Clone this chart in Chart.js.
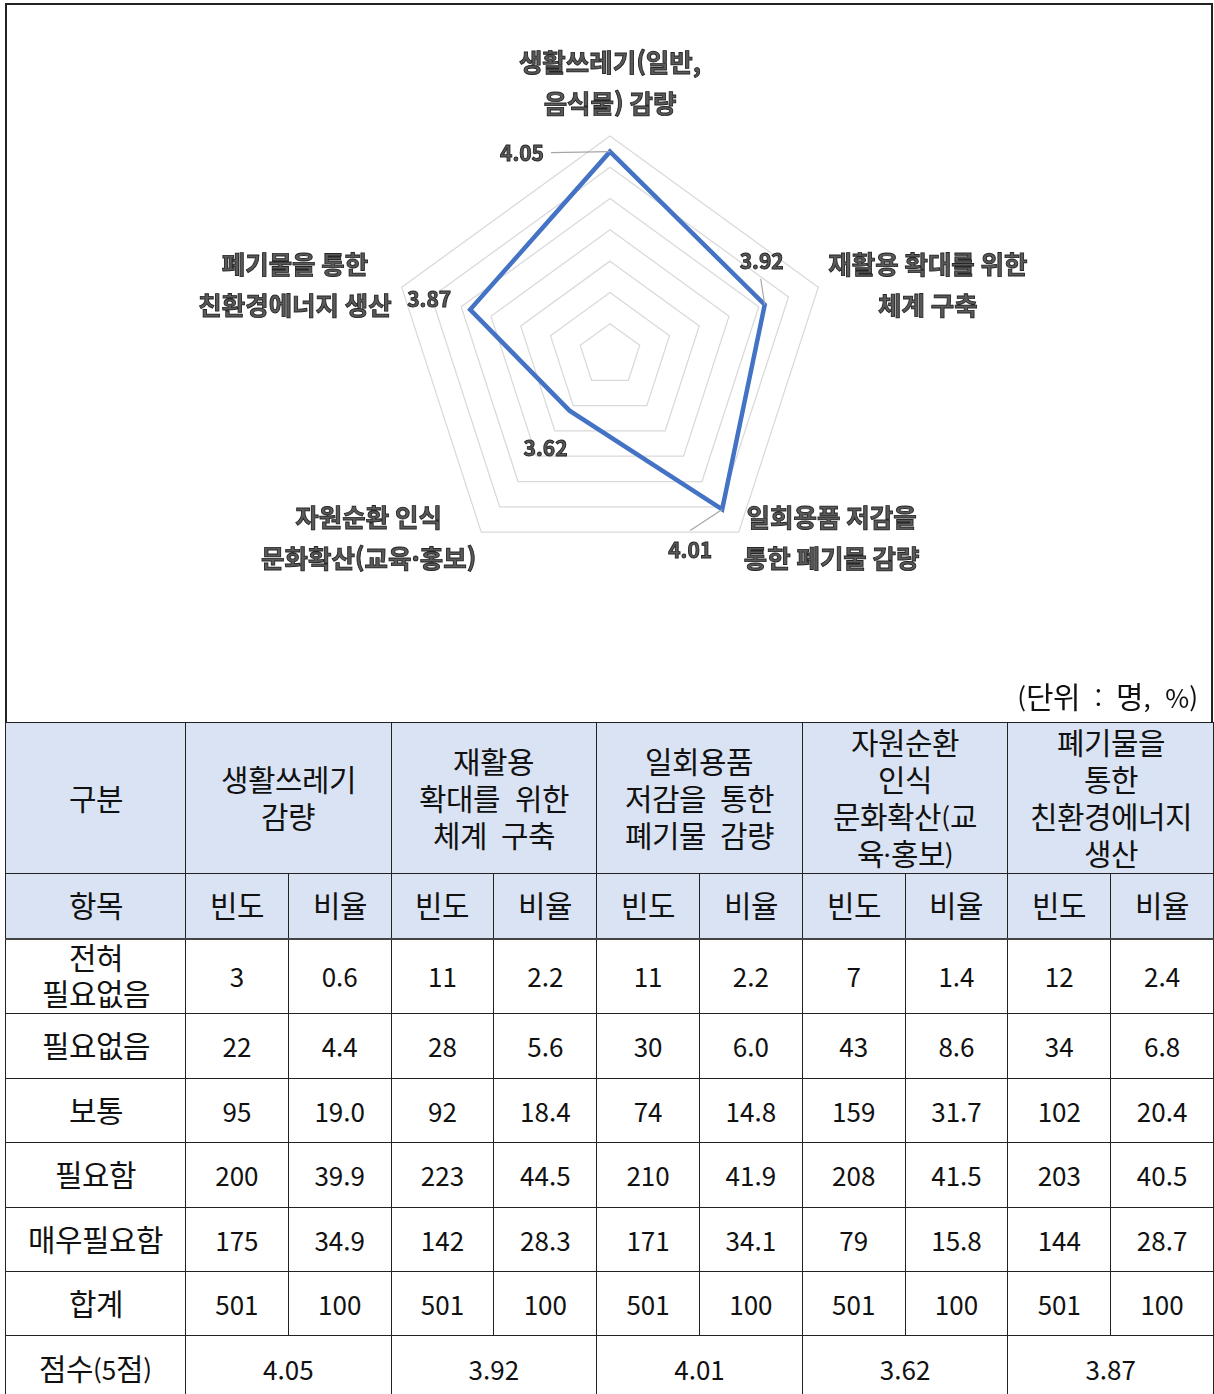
<!DOCTYPE html>
<html lang="ko">
<head>
  <meta charset="UTF-8">
  <title>자원순환 정책 필요도</title>
  <script src="https://cdn.jsdelivr.net/npm/chart.js"></script>
  <style>
    @font-face {
      font-family: "KRWide";
      src: local("Noto Sans CJK KR Regular"), local("NotoSansCJKkr-Regular"), local("Noto Sans CJK KR");
      size-adjust: 115%;
      unicode-range: U+1100-11FF, U+3130-318F, U+AC00-D7AF;
    }
    body { margin: 0; background: #fff; font-family: "KRWide", "Noto Sans CJK KR", "Noto Sans", sans-serif; }
    #wrap { position: absolute; left: 5px; top: 3px; width: 1208px; }
    #chartBox { position: relative; height: 719px; box-sizing: border-box; border: 2px solid #222; border-bottom: none; }
    #chartArea { position: absolute; left: 0; top: 0; width: 1204px; height: 677px; }
    #unit { position: absolute; right: 13px; top: 672px; font-size: 26px; line-height: 40px; color: #111; white-space: pre; }
    table { width: 1208px; border-collapse: collapse; table-layout: fixed; }
    td { border: 1px solid #222; text-align: center; vertical-align: middle; font-size: 26px; line-height: 36px; color: #111; padding: 0; overflow: hidden; }
    tr.head td { background: #dae3f3; }
    tr.head1 td { line-height: 37px; }
    tr.head2 td { border-bottom: 2px solid #444; }
  </style>
</head>
<body>
<div id="wrap">
  <div id="chartBox">
    <div id="chartArea"><canvas id="chart"></canvas></div>
    <div id="unit">(단위  :  명,  %)</div>
  </div>
  <table id="tbl"></table>
</div>

<script>
  // 레이더 차트 데이터
  const categories = [
    ['생활쓰레기(일반,', '음식물) 감량'],
    ['재활용 확대를 위한', '체계 구축'],
    ['일회용품 저감을', '통한 폐기물 감량'],
    ['자원순환 인식', '문화확산(교육·홍보)'],
    ['폐기물을 통한', '친환경에너지 생산']
  ];
  const scores = [4.05, 3.92, 4.01, 3.62, 3.87];
  const scaleMin = 3.4, scaleMax = 4.1, scaleStep = 0.1;

  // 표 데이터
  const tableHeads = ['생활쓰레기<br>감량', '재활용<br>확대를&nbsp; 위한<br>체계&nbsp; 구축', '일회용품<br>저감을&nbsp; 통한<br>폐기물&nbsp; 감량',
                      '자원순환<br>인식<br>문화확산(교<br>육·홍보)', '폐기물을<br>통한<br>친환경에너지<br>생산'];
  const responses = ['전혀<br>필요없음', '필요없음', '보통', '필요함', '매우필요함'];
  const freqByCategory = [
    [3, 22, 95, 200, 175],
    [11, 28, 92, 223, 142],
    [11, 30, 74, 210, 171],
    [7, 43, 159, 208, 79],
    [12, 34, 102, 203, 144]
  ];
  const ratioByCategory = [
    ['0.6', '4.4', '19.0', '39.9', '34.9'],
    ['2.2', '5.6', '18.4', '44.5', '28.3'],
    ['2.2', '6.0', '14.8', '41.9', '34.1'],
    ['1.4', '8.6', '31.7', '41.5', '15.8'],
    ['2.4', '6.8', '20.4', '40.5', '28.7']
  ];
  const totals = [501, 501, 501, 501, 501];
  const rowHeights = [75, 65, 64, 65, 64];

  // 값 라벨 위치 (점 기준 오프셋) 와 지시선
  const valueOffsets = [[-88, 1], [-3, -44], [-32, 41], [-24, 37], [-41, -11]];
  const leaders = [[-59, 1], [-4, -26], [-32, 21], null, null];

  function buildTable() {
    let html = '<colgroup><col style="width:180px">';
    for (let i = 0; i < 10; i++) html += '<col style="width:102.8px">';
    html += '</colgroup>';
    html += '<tr class="head head1" style="height:151px"><td>구분</td>';
    tableHeads.forEach(h => { html += `<td colspan="2">${h}</td>`; });
    html += '</tr><tr class="head head2" style="height:65px"><td>항목</td>';
    tableHeads.forEach(() => { html += '<td>빈도</td><td>비율</td>'; });
    html += '</tr>';
    responses.forEach((r, ri) => {
      html += `<tr style="height:${rowHeights[ri]}px"><td>${r}</td>`;
      freqByCategory.forEach((f, ci) => { html += `<td>${f[ri]}</td><td>${ratioByCategory[ci][ri]}</td>`; });
      html += '</tr>';
    });
    html += '<tr style="height:64px"><td>합계</td>';
    totals.forEach(t => { html += `<td>${t}</td><td>100</td>`; });
    html += '</tr><tr style="height:66px"><td>점수(5점)</td>';
    scores.forEach(s => { html += `<td colspan="2">${s.toFixed(2)}</td>`; });
    html += '</tr>';
    document.getElementById('tbl').innerHTML = html;
  }
  buildTable();

  function drawText(ctx, text, x, y) {
    ctx.fillText(text, x, y);
    ctx.strokeText(text, x, y);
  }

  const labelPlugin = {
    id: 'radarLabels',
    afterDatasetsDraw(chart) {
      const scale = chart.scales.r;
      const ctx = chart.ctx;
      ctx.save();
      ctx.textAlign = 'center';
      ctx.textBaseline = 'middle';
      ctx.fillStyle = '#5a5a5a';
      ctx.strokeStyle = '#262626';
      ctx.lineWidth = 0.9;

      // 항목 이름
      ctx.font = 'bold 25.5px "Noto Sans CJK KR"';
      const lh = 41;
      categories.forEach((lines, i) => {
        const p = scale.getPointPosition(i, scale.drawingArea);
        const w = Math.max(...lines.map(l => ctx.measureText(l).width));
        const h = lines.length * lh;
        const upper = p.y < scale.yCenter;
        let cx = p.x, cy;
        if (Math.abs(p.x - scale.xCenter) < 5) {
          cy = p.y - 12 - h / 2;
        } else {
          const gap = upper ? 10 : 5;
          cx = p.x > scale.xCenter ? p.x + gap + w / 2 : p.x - gap - w / 2;
          cy = p.y + (upper ? -3 : 6);
        }
        lines.forEach((l, j) => drawText(ctx, l, cx, cy - h / 2 + lh * (j + 0.5)));
      });

      // 값 라벨과 지시선
      const meta = chart.getDatasetMeta(0);
      meta.data.forEach((pt, i) => {
        const lead = leaders[i];
        if (lead) {
          ctx.save();
          ctx.strokeStyle = '#a6a6a6';
          ctx.lineWidth = 1.2;
          ctx.beginPath();
          ctx.moveTo(pt.x + lead[0], pt.y + lead[1]);
          ctx.lineTo(pt.x, pt.y);
          ctx.stroke();
          ctx.restore();
        }
      });
      ctx.font = 'bold 21px "Noto Sans CJK KR"';
      meta.data.forEach((pt, i) => {
        const off = valueOffsets[i];
        drawText(ctx, scores[i].toFixed(2), pt.x + off[0], pt.y + off[1]);
      });
      ctx.restore();
    }
  };

  new Chart(document.getElementById('chart'), {
    type: 'radar',
    data: {
      labels: categories,
      datasets: [{
        data: scores,
        borderColor: '#4472C4',
        borderWidth: 4.5,
        borderJoinStyle: 'miter',
        pointRadius: 0,
        fill: false
      }]
    },
    options: {
      responsive: true,
      maintainAspectRatio: false,
      animation: false,
      layout: { padding: { top: 131, bottom: 108, left: 384, right: 382 } },
      plugins: { legend: { display: false }, tooltip: { enabled: false } },
      scales: {
        r: {
          min: scaleMin,
          max: scaleMax,
          ticks: { stepSize: scaleStep, display: false },
          grid: { color: '#d9d9d9', lineWidth: 1.25 },
          angleLines: { display: false },
          pointLabels: { display: false }
        }
      }
    },
    plugins: [labelPlugin]
  });
</script>
</body>
</html>
